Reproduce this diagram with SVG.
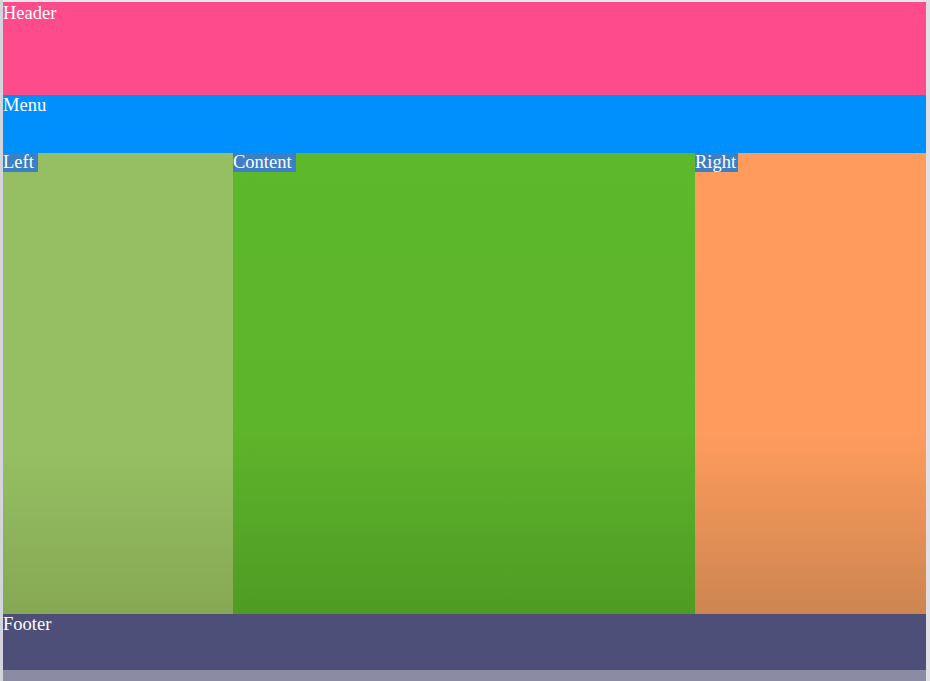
<svg xmlns="http://www.w3.org/2000/svg" width="930" height="681" viewBox="0 0 930 681">
<defs>
<style>
.t{font-family:"Liberation Serif","Times New Roman",serif;font-size:18.5px;fill:#ffffff}
.hl{fill:#3d7fc4}
</style>
<linearGradient id="gL" x1="0" y1="0" x2="0" y2="1">
<stop offset="0" stop-color="#95bf62"/><stop offset="0.65" stop-color="#95bf62"/><stop offset="1" stop-color="#86a854"/>
</linearGradient>
<linearGradient id="gC" x1="0" y1="0" x2="0" y2="1">
<stop offset="0" stop-color="#5db82b"/><stop offset="0.6" stop-color="#5db52b"/><stop offset="1" stop-color="#4f9b23"/>
</linearGradient>
<linearGradient id="gR" x1="0" y1="0" x2="0" y2="1">
<stop offset="0" stop-color="#ff9c5d"/><stop offset="0.6" stop-color="#ff9c5d"/><stop offset="1" stop-color="#cd8550"/>
</linearGradient>
</defs>
<rect x="0" y="0" width="930" height="681" fill="#e8e8ec"/>
<g id="header">
<rect x="3" y="2" width="923" height="93" fill="#fe4b8b"/>
<text class="t" x="3" y="19">Header</text>
</g>
<g id="menu">
<rect x="3" y="95" width="923" height="58" fill="#0090fe"/>
<text class="t" x="3" y="111">Menu</text>
</g>
<g id="left">
<rect x="3" y="153" width="230" height="461" fill="url(#gL)"/>
<rect class="hl" x="3" y="153" width="35" height="19"/>
<text class="t" x="3" y="168">Left</text>
</g>
<g id="content">
<rect x="233" y="153" width="462" height="461" fill="url(#gC)"/>
<rect class="hl" x="233" y="153" width="63" height="19"/>
<text class="t" x="233" y="168">Content</text>
</g>
<g id="right">
<rect x="695" y="153" width="231" height="461" fill="url(#gR)"/>
<rect class="hl" x="695" y="153" width="43" height="19"/>
<text class="t" x="695" y="168">Right</text>
</g>
<g id="footer">
<rect x="3" y="614" width="923" height="56" fill="#4e4f78"/>
<text class="t" x="3" y="630">Footer</text>
</g>
<rect x="0" y="670" width="930" height="11" fill="#8b8ba3"/>
<rect x="0" y="0" width="3" height="681" fill="#d4d4dc"/>
<rect x="926" y="0" width="4" height="681" fill="#e0e0e6"/>
<g id="connectors"/>
</svg>
